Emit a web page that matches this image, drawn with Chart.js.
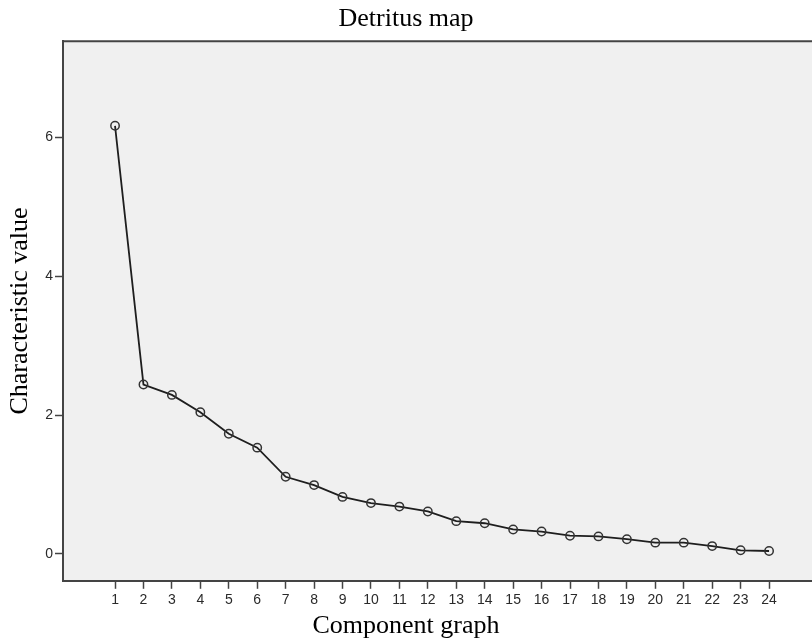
<!DOCTYPE html>
<html>
<head>
<meta charset="utf-8">
<title>Detritus map</title>
<script src="https://cdn.jsdelivr.net/npm/chart.js@4.4.0/dist/chart.umd.min.js"></script>
<style>
  body { margin: 0; background: #ffffff; }
  #screeChart { display: block; }
</style>
</head>
<body>
<canvas id="screeChart" width="812" height="644"></canvas>
<script>
// Component numbers and their characteristic values
const components = [1, 2, 3, 4, 5, 6, 7, 8, 9, 10, 11, 12, 13, 14, 15, 16, 17, 18, 19, 20, 21, 22, 23, 24];
const eigenvalues = [6.17, 2.44, 2.29, 2.04, 1.73, 1.53, 1.11, 0.99, 0.82, 0.73, 0.68, 0.61,
  0.47, 0.44, 0.35, 0.32, 0.26, 0.25, 0.21, 0.16, 0.16, 0.11, 0.05, 0.04];
const yTicks = [0, 2, 4, 6];

const serifFont = "'Liberation Serif', 'Times New Roman', serif";
const sansFont = "'Liberation Sans', Arial, sans-serif";
const frameColor = "#444444";

// grey plot background plus the top edge of the frame
const plotBackground = {
  id: "plotBackground",
  beforeDraw(chart) {
    const { ctx, chartArea } = chart;
    ctx.save();
    ctx.fillStyle = "#f0f0f0";
    ctx.fillRect(chartArea.left, chartArea.top, chartArea.right - chartArea.left, chartArea.bottom - chartArea.top);
    ctx.strokeStyle = frameColor;
    ctx.lineWidth = 2;
    ctx.beginPath();
    ctx.moveTo(chartArea.left, chartArea.top);
    ctx.lineTo(chartArea.right, chartArea.top);
    ctx.stroke();
    ctx.restore();
  },
};

function renderScreeChart() {
  const points = components.map((c, i) => ({ x: c, y: eigenvalues[i] }));

  const ctx = document.getElementById("screeChart").getContext("2d");
  new Chart(ctx, {
    type: "line",
    data: {
      datasets: [
        {
          data: points,
          borderColor: "#1e1e1e",
          borderWidth: 1.8,
          pointRadius: 4.2,
          pointHoverRadius: 4.2,
          pointBorderWidth: 1.5,
          pointBorderColor: "#333333",
          pointBackgroundColor: "rgba(0,0,0,0)",
          tension: 0,
        },
      ],
    },
    options: {
      responsive: false,
      animation: false,
      layout: { padding: 0, autoPadding: false },
      plugins: {
        legend: { display: false },
        tooltip: { enabled: false },
        title: {
          display: true,
          text: "Detritus map",
          color: "#000000",
          font: { family: serifFont, size: 26, weight: "normal" },
          padding: { top: 4, bottom: 6 },
        },
        subtitle: {
          display: true,
          text: "Component graph",
          position: "bottom",
          color: "#000000",
          font: { family: serifFont, size: 26, weight: "normal" },
          padding: { top: 0, bottom: 2 },
        },
      },
      scales: {
        x: {
          type: "linear",
          min: -0.83,
          max: 25.51,
          afterBuildTicks: (scale) => {
            scale.ticks = components.map((v) => ({ value: v }));
          },
          afterFit: (scale) => {
            scale.height = 30;
          },
          grid: {
            drawOnChartArea: false,
            drawTicks: true,
            tickLength: 8,
            tickWidth: 1.5,
            tickColor: frameColor,
          },
          border: { display: true, color: frameColor, width: 2 },
          ticks: {
            autoSkip: false,
            maxRotation: 0,
            padding: 3,
            color: "#2a2a2a",
            font: { family: sansFont, size: 14 },
          },
        },
        y: {
          type: "linear",
          min: -0.39,
          max: 7.39,
          afterBuildTicks: (scale) => {
            scale.ticks = yTicks.map((v) => ({ value: v }));
          },
          afterFit: (scale) => {
            scale.width = 63;
          },
          grid: {
            drawOnChartArea: false,
            drawTicks: true,
            tickLength: 8,
            tickWidth: 1.5,
            tickColor: frameColor,
          },
          border: { display: true, color: frameColor, width: 2 },
          ticks: {
            padding: 2,
            color: "#2a2a2a",
            font: { family: sansFont, size: 14 },
          },
          title: {
            display: true,
            text: "Characteristic value",
            color: "#000000",
            font: { family: serifFont, size: 26, weight: "normal" },
            padding: { top: 5, bottom: 0 },
          },
        },
      },
    },
    plugins: [plotBackground],
  });
}

document.addEventListener("DOMContentLoaded", () => {
  renderScreeChart();
});
</script>
</body>
</html>
